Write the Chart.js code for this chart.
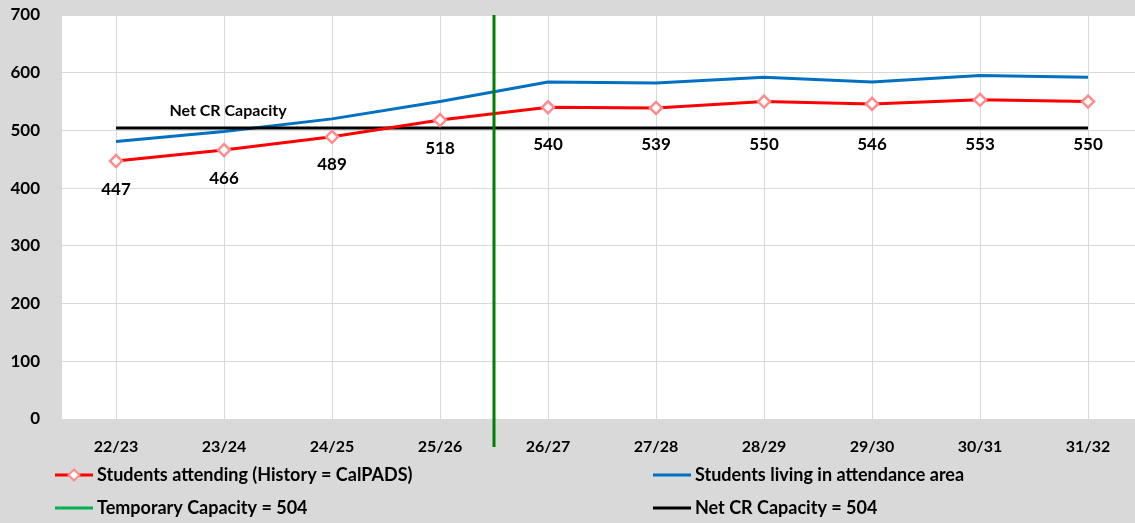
<!DOCTYPE html>
<html lang="en">
<head>
<meta charset="UTF-8">
<title>Students attending vs capacity</title>
<style>
  html, body { margin: 0; padding: 0; background: #d9d9d9; overflow: hidden; }
  #wrap { width: 1142px; height: 523px; }
</style>
</head>
<body>
<div id="wrap"><canvas id="enrollChart" width="1142" height="523"></canvas></div>

<script src="https://cdn.jsdelivr.net/npm/chart.js"></script>
<script>
// datos
const years = ['22/23', '23/24', '24/25', '25/26', '26/27', '27/28', '28/29', '29/30', '30/31', '31/32'];
const attending = [447, 466, 489, 518, 540, 539, 550, 546, 553, 550];
const livingInArea = [481, 498, 520, 550, 584, 582, 592, 584, 595, 592];
const netCapacity = [504, 504, 504, 504, 504, 504, 504, 504, 504, 504];
const tempCapacityAfter = '25/26';   // linea vertical entre este año y el siguiente
const yTicks = [0, 100, 200, 300, 400, 500, 600, 700];

const FONT = 'Lato, "Open Sans", sans-serif';

// fondo blanco del area de trazado
const plotBg = {
    id: 'plotBg',
    beforeDraw(chart) {
        const a = chart.chartArea, c = chart.ctx;
        c.save();
        c.fillStyle = '#ffffff';
        c.fillRect(a.left, a.top, a.right - a.left, a.bottom - a.top);
        c.restore();
    }
};

// linea vertical verde, etiquetas de valores y texto "Net CR Capacity"
const extras = {
    id: 'extras',
    afterDatasetsDraw(chart) {
        const c = chart.ctx, x = chart.scales.x, y = chart.scales.y, a = chart.chartArea;
        const i = years.indexOf(tempCapacityAfter);
        const gx = (x.getPixelForValue(i) + x.getPixelForValue(i + 1)) / 2;
        c.save();
        c.strokeStyle = '#008000';
        c.lineWidth = 3;
        c.beginPath();
        c.moveTo(gx, a.top);
        c.lineTo(gx, a.bottom + 28);
        c.stroke();

        // etiquetas de la serie roja, siempre por debajo de la linea de capacidad
        c.fillStyle = '#000';
        c.font = 'bold 17px ' + FONT;
        c.textAlign = 'center';
        c.textBaseline = 'middle';
        const capY = y.getPixelForValue(netCapacity[0]);
        chart.getDatasetMeta(0).data.forEach((p, k) => {
            const ly = Math.max(p.y + 28, capY + 16);
            c.fillText(String(attending[k]), p.x, ly);
        });

        c.font = 'bold 16px ' + FONT;
        c.fillText('Net CR Capacity', x.getPixelForValue(1) + 4, capY - 17);
        c.restore();
    }
};

// leyenda en dos columnas
const legend2col = {
    id: 'legend2col',
    afterDraw(chart) {
        const c = chart.ctx;
        const order = [0, 2, 3, 1];       // rojo, azul / verde, negro
        const cols = [55, 653], rows = [475, 508];
        c.save();
        c.font = 'bold 18px ' + FONT;
        c.textBaseline = 'middle';
        c.textAlign = 'left';
        order.forEach((di, n) => {
            const ds = chart.data.datasets[di];
            const lx = cols[n % 2], ly = rows[Math.floor(n / 2)];
            c.strokeStyle = ds.borderColor;
            c.lineWidth = 3;
            c.beginPath();
            c.moveTo(lx, ly);
            c.lineTo(lx + 38, ly);
            c.stroke();
            if (ds.pointRadius) {
                c.fillStyle = '#fff';
                c.strokeStyle = ds.pointBorderColor;
                c.lineWidth = 2;
                c.beginPath();
                const r = 5.5, mx = lx + 19;
                c.moveTo(mx, ly - r); c.lineTo(mx + r, ly); c.lineTo(mx, ly + r); c.lineTo(mx - r, ly);
                c.closePath();
                c.fill(); c.stroke();
            }
            c.fillStyle = '#000';
            c.fillText(ds.label, lx + 42, ly);
        });
        c.restore();
    }
};

const ctx = document.getElementById('enrollChart').getContext('2d');
const enrollChart = new Chart(ctx, {
    type: 'line',
    data: {
        labels: years,
        datasets: [{
            label: 'Students attending (History = CalPADS)',
            data: attending,
            borderColor: '#ff0000',
            borderWidth: 3,
            pointStyle: 'rectRot',
            pointRadius: 6,
            pointBackgroundColor: '#ffffff',
            pointBorderColor: '#ff8c8c',
            pointBorderWidth: 2.5,
            tension: 0
        }, {
            label: 'Net CR Capacity = 504',
            data: netCapacity,
            borderColor: '#000000',
            borderWidth: 3,
            pointRadius: 0
        }, {
            label: 'Students living in attendance area',
            data: livingInArea,
            borderColor: '#0070c0',
            borderWidth: 3,
            pointRadius: 0
        }, {
            label: 'Temporary Capacity = 504',
            data: [],
            borderColor: '#00b050',
            borderWidth: 3,
            pointRadius: 0
        }]
    },
    options: {
        responsive: false,
        animation: false,
        layout: { autoPadding: false, padding: { top: 0, right: 0, left: 0, bottom: 64 } },
        plugins: {
            legend: { display: false },
            tooltip: { enabled: false }
        },
        scales: {
            x: {
                offset: true,
                grid: { offset: false, color: '#d9d9d9', drawTicks: false },
                border: { display: false },
                ticks: { color: '#000', padding: 18, maxRotation: 0, font: { family: FONT, size: 16, weight: 'bold' } },
                afterFit: s => { s.height = 40; s.paddingLeft = 0; s.paddingRight = 0; }
            },
            y: {
                min: 0,
                max: 700,
                afterBuildTicks: s => { s.ticks = yTicks.map(v => ({ value: v })); },
                grid: { color: '#d9d9d9', drawTicks: false },
                border: { display: false },
                ticks: { color: '#000', padding: 22, font: { family: FONT, size: 17, weight: 'bold' } },
                afterFit: s => { s.width = 62; s.paddingTop = 15; s.paddingBottom = 0; }
            }
        }
    },
    plugins: [plotBg, extras, legend2col]
});
</script>
</body>
</html>
